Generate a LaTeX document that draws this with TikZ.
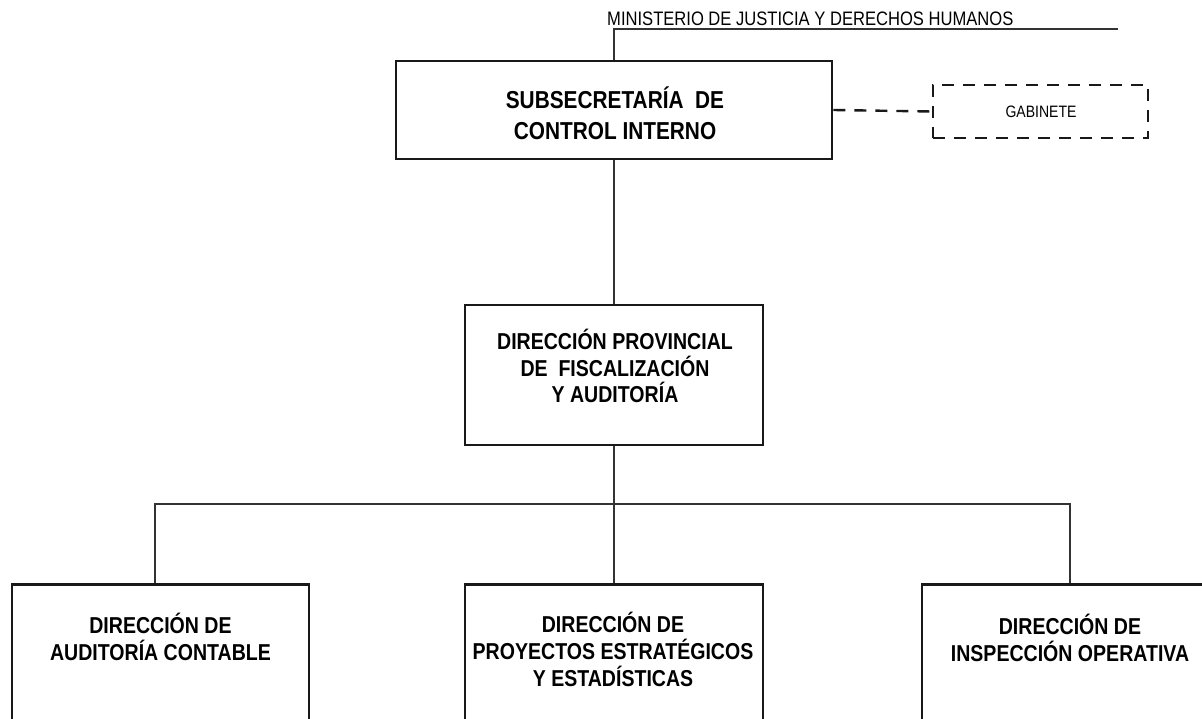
\documentclass[tikz,border=0pt]{standalone}
\usepackage{fontspec}
\setmainfont{Liberation Sans}[FakeStretch=0.85]
\begin{document}
\begin{tikzpicture}[x=1pt,y=-1pt,
  box/.style={draw=black!90, line width=2.8pt, rectangle, inner sep=0pt},
  lbl/.style={align=center, font=\bfseries\fontsize{23}{27}\selectfont, inner sep=0pt},
  conn/.style={draw=black!80, line width=1.5pt},
  dashline/.style={draw=black!90, line width=2.4pt, dash pattern=on 12pt off 9pt},
  dashbox/.style={dashline, rectangle, inner sep=0pt}]
\useasboundingbox (0,0) rectangle (1202,719);
\clip (0,0) rectangle (1202,719);
% top
\node[anchor=base west, inner sep=0pt, font=\fontsize{19.5}{22}\selectfont] (min) at (607,26) {MINISTERIO DE JUSTICIA Y DERECHOS HUMANOS};
\coordinate (mend) at (1118,29);
\node[box, minimum width=436pt, minimum height=98pt] (top) at (614,110) {};
\node[lbl, font=\bfseries\fontsize{24.5}{31}\selectfont] (toptxt) at (615,113.5) {SUBSECRETARÍA\ \ DE\\CONTROL INTERNO};
\draw[conn] (top.north) |- (mend);
% gabinete
\node[dashbox, minimum width=215pt, minimum height=53pt] (gab) at (1040.5,111.5) {};
\node[inner sep=0pt, font=\fontsize{16.5}{18}\selectfont] (gabtxt) at (1041,111.5) {GABINETE};
\draw[dashline] (top.east) -- (gab.west);
% middle
\node[box, minimum width=298pt, minimum height=140pt] (mid) at (614,375) {};
\node[lbl, font=\bfseries\fontsize{23}{26.5}\selectfont] (midtxt) at (615,366) {DIRECCIÓN PROVINCIAL\\DE\ \ FISCALIZACIÓN\\Y AUDITORÍA};
\draw[conn] (top.south) -- (mid.north);
% bottom
\node[box, anchor=north, minimum width=297pt, minimum height=200pt] (b1) at (160.5,583) {};
\node[box, anchor=north, minimum width=298pt, minimum height=200pt] (b2) at (614,583) {};
\node[box, anchor=north, minimum width=297pt, minimum height=200pt] (b3) at (1070.5,583) {};
\node[lbl] (t1) at (160.5,637) {DIRECCIÓN DE\\AUDITORÍA CONTABLE};
\node[lbl] (t2) at (613,649.5) {DIRECCIÓN DE\\PROYECTOS ESTRATÉGICOS\\Y ESTADÍSTICAS};
\node[lbl] (t3) at (1070,638) {DIRECCIÓN DE\\INSPECCIÓN OPERATIVA};
\coordinate (busL) at (155,504);
\coordinate (busR) at (1070,504);
\draw[conn] (mid.south) -- (b2.north);
\draw[conn] (busL |- b1.north) -- (busL) -- (busR) -- (busR |- b3.north);
\end{tikzpicture}
\end{document}
